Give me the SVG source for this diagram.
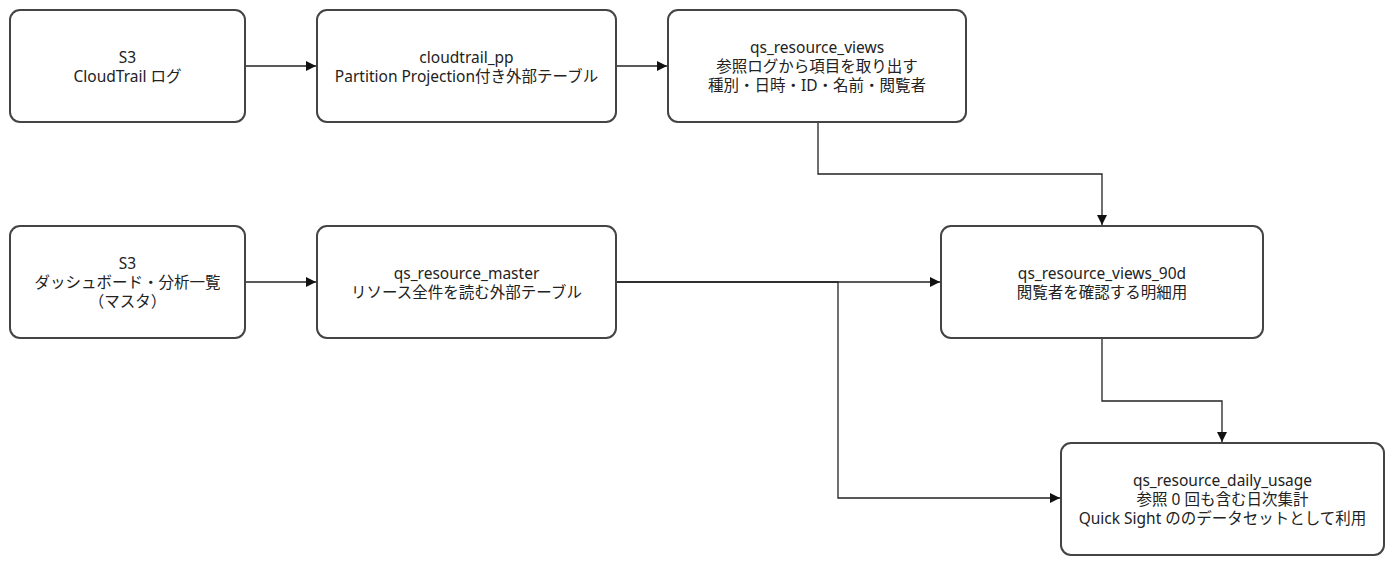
<svg xmlns="http://www.w3.org/2000/svg" width="1394" height="561" viewBox="0 0 1394 561">
<defs>
<style>
.box{fill:#ffffff;stroke:#444444;stroke-width:2}
.t{font-family:"Noto Sans","Noto Sans CJK JP",sans-serif;font-size:15.5px;fill:#222222;text-anchor:middle;dominant-baseline:central}
.c{fill:none;stroke:#222222;stroke-width:1.3}
</style>
<marker id="ah" viewBox="0 0 10 10" refX="10" refY="5" markerWidth="10" markerHeight="10" markerUnits="userSpaceOnUse" orient="auto">
<path d="M0,0 L10,5 L0,10 z" fill="#111111"/>
</marker>
</defs>
<rect width="1394" height="561" fill="#ffffff"/>
<g id="connectors">
<path class="c" d="M245,66 H316" marker-end="url(#ah)"/>
<path class="c" d="M616,66 H667" marker-end="url(#ah)"/>
<path class="c" d="M818,122 V174 H1102 V225" marker-end="url(#ah)"/>
<path class="c" d="M245,282 H316" marker-end="url(#ah)"/>
<path class="c" d="M616,282 H940" marker-end="url(#ah)"/>
<path class="c" d="M616,282 H838 V498 H1060" marker-end="url(#ah)"/>
<path class="c" d="M1102,338 V401 H1222 V442" marker-end="url(#ah)"/>
</g>
<g id="s3-cloudtrail">
<rect class="box" x="10" y="10" width="235" height="112" rx="10"/>
<text class="t" x="127.5" y="56.5">S3</text>
<text class="t" x="127.5" y="75.5">CloudTrail ログ</text>
</g>
<g id="cloudtrail-pp">
<rect class="box" x="317" y="10" width="299" height="112" rx="10"/>
<text class="t" x="466.5" y="56.5">cloudtrail_pp</text>
<text class="t" x="466.5" y="75.5">Partition Projection付き外部テーブル</text>
</g>
<g id="qs-resource-views">
<rect class="box" x="668" y="10" width="298" height="112" rx="10"/>
<text class="t" x="817" y="47">qs_resource_views</text>
<text class="t" x="817" y="66">参照ログから項目を取り出す</text>
<text class="t" x="817" y="85">種別・日時・ID・名前・閲覧者</text>
</g>
<g id="s3-master">
<rect class="box" x="10" y="226" width="235" height="112" rx="10"/>
<text class="t" x="127.5" y="263">S3</text>
<text class="t" x="127.5" y="282">ダッシュボード・分析一覧</text>
<text class="t" x="127.5" y="301">（マスタ）</text>
</g>
<g id="qs-resource-master">
<rect class="box" x="317" y="226" width="299" height="112" rx="10"/>
<text class="t" x="466.5" y="272.5">qs_resource_master</text>
<text class="t" x="466.5" y="291.5">リソース全件を読む外部テーブル</text>
</g>
<g id="qs-resource-views-90d">
<rect class="box" x="941" y="226" width="322" height="112" rx="10"/>
<text class="t" x="1102" y="272.5">qs_resource_views_90d</text>
<text class="t" x="1102" y="291.5">閲覧者を確認する明細用</text>
</g>
<g id="qs-resource-daily-usage">
<rect class="box" x="1061" y="443" width="323" height="112" rx="10"/>
<text class="t" x="1222.5" y="480">qs_resource_daily_usage</text>
<text class="t" x="1222.5" y="499">参照 0 回も含む日次集計</text>
<text class="t" x="1222.5" y="518">Quick Sight ののデータセットとして利用</text>
</g>
</svg>
